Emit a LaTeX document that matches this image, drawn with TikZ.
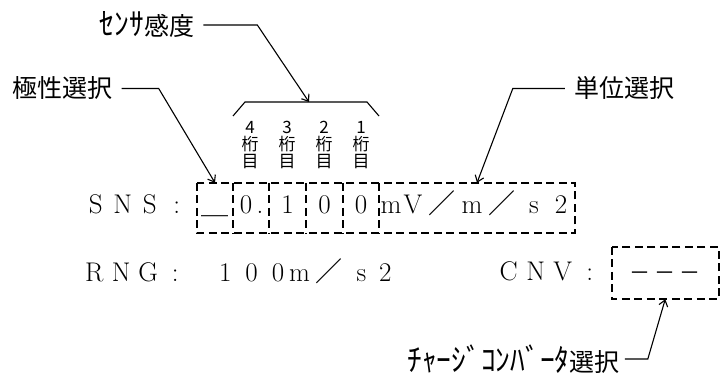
\documentclass[tikz,border=0pt]{standalone}
\usepackage{fontspec}
\usetikzlibrary{arrows.meta}
\newfontfamily\lab{Noto Sans CJK JP}
\newcommand{\hk}[1]{\scalebox{1.18}[1.25]{#1}}
\newcommand{\fw}[2]{\makebox[#1pt]{#2}}
\begin{document}
\begin{tikzpicture}[x=1pt,y=-1pt,
  lbl/.style={font={\lab\fontsize{25}{25}\selectfont}, inner xsep=9pt, inner ysep=0pt},
  dg/.style={font={\lab\fontsize{17}{17}\selectfont}, align=center, inner sep=0pt},
  mtext/.style={font={\fontsize{27}{27}\selectfont}, inner sep=0pt, anchor=base west},
  cell/.style={minimum height=50pt, inner sep=0pt, text height=14pt, text depth=2pt, font={\fontsize{27}{27}\selectfont}},
  dbox/.style={line width=1.8pt, dash pattern=on 8pt off 4.5pt},
  thinl/.style={line width=1.1pt},
  leader/.style={line width=1.1pt, -{Straight Barb[length=6pt,width=9pt]}},
]
\useasboundingbox (0,0) rectangle (720,374);

% labels
\node[lbl] (sen) at (147,25) {\hk{ｾﾝｻ}感度};
\node[lbl] (kyoku) at (62.5,88.5) {極性選択};
\node[lbl] (tani) at (624,88.5) {単位選択};
\node[lbl, inner xsep=5pt] (chg) at (513.5,359) {\hk{ﾁｬｰｼﾞｺﾝﾊﾞｰﾀ}選択};

% digit labels
\node[dg] (d4) at (250,145) {4\\桁\\目};
\node[dg] (d3) at (287,145) {3\\桁\\目};
\node[dg] (d2) at (324,145) {2\\桁\\目};
\node[dg] (d1) at (361,145) {1\\桁\\目};

% brace
\coordinate (bl) at (233,116);
\coordinate (br) at (379,116);
\coordinate (bt) at (309,102);
\draw[thinl] (bl) -- (245,102) -- (367,102) -- (br);

% SNS cells
\node[cell, minimum width=36pt] (c1) at (215,208) {\lab ＿};
\node[cell, minimum width=36pt] (c2) at (251,208) {\fw{18}{0}\fw{10}{.}};
\node[cell, minimum width=37pt] (c3) at (287.5,208) {1};
\node[cell, minimum width=37pt] (c4) at (324.5,208) {0};
\node[cell, minimum width=36pt] (c5) at (361,208) {0};
\node[cell, minimum width=196pt] (c6) at (477,208) {\fw{22}{m}\fw{22}{V}\fw{36}{\lab ／}\fw{24}{m}\fw{36}{\lab ／}\fw{28}{s}\fw{26}{2}};
\draw[dbox] (c1.north west) rectangle (c6.south east);
\foreach \c in {c1,c2,c3,c4,c5} \draw[dbox] (\c.north east) -- (\c.south east);

% CNV box
\node[cell, minimum width=106.5pt, minimum height=52pt, text height=16pt, font={\lab\fontsize{21}{21}\selectfont}] (cnv) at (665.25,273) {\fw{25}{－}\fw{25}{－}\fw{25}{－}};
\draw[dbox] (cnv.north west) rectangle (cnv.south east);

% row texts
\node[mtext] (sns) at (82,214) {\fw{27}{S}\fw{27}{N}\fw{27}{S}\fw{27}{:}};
\node[mtext] (rng) at (80.5,281) {\fw{27}{R}\fw{27}{N}\fw{27}{G}\fw{27}{:}};
\node[mtext] (rv) at (211.75,281) {\fw{26.5}{1}\fw{26.5}{0}\fw{26.5}{0}\fw{16}{m}\fw{44}{\lab ／}\fw{20}{s}\fw{28}{2}};
\node[mtext] (cnvl) at (495,280) {\fw{27}{C}\fw{27}{N}\fw{27}{V}\fw{27}{:}};

% leaders
\draw[leader] (sen.east) -- ++(54,0) -- (bt);
\draw[leader] (kyoku.east) -- ++(37,0) -- (c1.north);
\draw[leader] (tani.west) -- ++(-52,0) -- (c6.north);
\draw[leader] (chg.east) -- ++(23,0) -- (cnv.south);
\end{tikzpicture}
\end{document}
